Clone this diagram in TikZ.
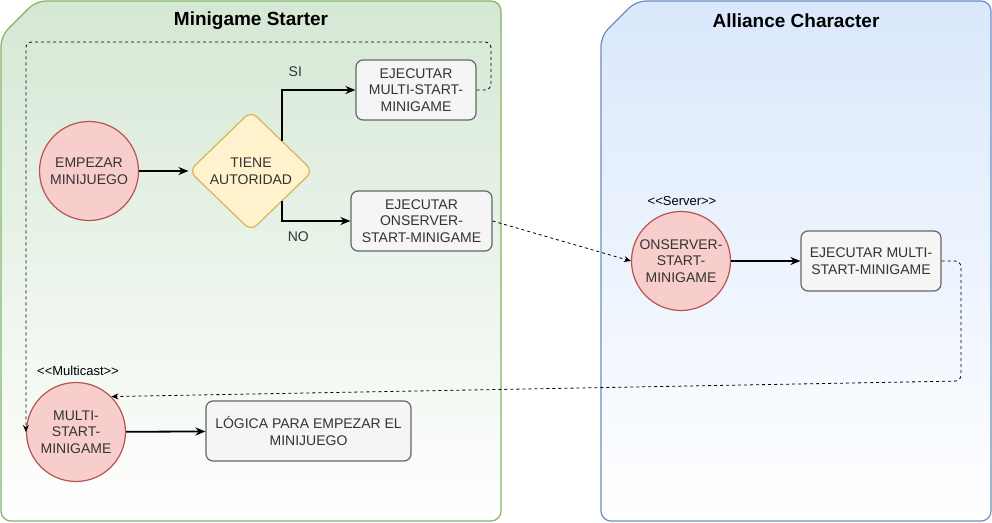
\documentclass[tikz,border=0pt]{standalone}
\usepackage{fontspec}
\setmainfont{Liberation Sans}
\usetikzlibrary{shapes.geometric,arrows.meta}

\definecolor{greenfill}{HTML}{D5E8D4}
\definecolor{greenline}{HTML}{82B366}
\definecolor{bluefill}{HTML}{DAE8FC}
\definecolor{blueline}{HTML}{6C8EBF}
\definecolor{redfill}{HTML}{F8CECC}
\definecolor{redline}{HTML}{B85450}
\definecolor{yellowfill}{HTML}{FFF2CC}
\definecolor{yellowline}{HTML}{D6B656}
\definecolor{grayfill}{HTML}{F5F5F5}
\definecolor{grayline}{HTML}{666666}
\definecolor{textgray}{HTML}{333333}

\begin{document}
\begin{tikzpicture}[x=1pt, y=-1pt, font=\fontsize{14}{16.5}\selectfont]
    % Styles
    \tikzstyle{event} = [circle, draw=redline, line width=1.2pt, fill=redfill, minimum size=99pt, inner sep=0pt, align=center, text=textgray]
    \tikzstyle{action} = [rectangle, rounded corners=7pt, draw=grayline, line width=1.2pt, fill=grayfill, minimum height=60pt, inner sep=2pt, align=center, text=textgray]
    \tikzstyle{decision} = [diamond, rounded corners=8pt, draw=yellowline, line width=1.2pt, fill=yellowfill, minimum width=124pt, minimum height=120pt, inner sep=0pt, align=center, text=textgray]
    \tikzstyle{arrow} = [-{Stealth[length=10pt, width=8pt]}, line width=1.8pt]
    \tikzstyle{call} = [-{Stealth[length=7pt, width=6pt]}, dashed, line width=0.8pt, rounded corners=6pt]
    \tikzstyle{title} = [font=\fontsize{19}{22}\selectfont\bfseries]
    \tikzstyle{stereo} = [font=\fontsize{13}{15}\selectfont]
    \tikzstyle{branch} = [pos=0.5, text=textgray]

    \useasboundingbox (0,0) rectangle (992,522);

    % Containers
    \path[draw=greenline, line width=1.2pt, top color=greenfill, bottom color=white, rounded corners=10pt]
        (1,521) -- (1,36) -- (36,1) -- (501,1) -- (501,521) -- cycle;
    \path[draw=blueline, line width=1.2pt, top color=bluefill, bottom color=white, rounded corners=10pt]
        (601,521) -- (601,36) -- (636,1) -- (991,1) -- (991,521) -- cycle;
    \node[title] (starter) at (251,21) {Minigame Starter};
    \node[title] (alliance) at (796,21) {Alliance Character};

    % Nodes
    \node[event] (empezar) at (89,171) {EMPEZAR\\MINIJUEGO};
    \node[decision] (tiene) at (251,171) {TIENE\\AUTORIDAD};
    \node[action, minimum width=120pt] (multiexec) at (416,90) {EJECUTAR\\MULTI-START-\\MINIGAME};
    \node[action, minimum width=141pt] (serverexec) at (421.5,221) {EJECUTAR\\ONSERVER-\\START-MINIGAME};
    \node[event] (onserver) at (681,261) {ONSERVER-\\START-\\MINIGAME};
    \node[stereo] (serverlbl) at (682,201) {<{}<Server>{}>};
    \node[action, minimum width=140pt] (multicall) at (871,261) {EJECUTAR MULTI-\\START-MINIGAME};
    \node[event] (multi) at (76,432) {MULTI-\\START-\\MINIGAME};
    \node[stereo] (multilbl) at (78,371) {<{}<Multicast>{}>};
    \node[action, minimum width=205pt] (logica) at (308.5,431) {LÓGICA PARA EMPEZAR EL\\MINIJUEGO};

    \coordinate (loopa) at (491,42);
    \coordinate (loopb) at (961,381);

    % Arrows
    \draw[arrow] (empezar) -- (tiene);
    \draw[arrow] (tiene.north east) |- node[branch, xshift=13pt, yshift=18pt] {SI} (multiexec.west);
    \draw[arrow] (tiene.south east) |- node[branch, xshift=16pt, yshift=-16pt] {NO} (serverexec.west);
    \draw[arrow] (onserver) -- (multicall);
    \draw[arrow] (multi) -- (logica);

    % RPC calls
    \draw[call] (multiexec.east) -| (loopa) -| (multi.west);
    \draw[call] (serverexec.east) -- (onserver.west);
    \draw[call] (multicall.east) -| (loopb) -- (multi.north east);
\end{tikzpicture}
\end{document}
